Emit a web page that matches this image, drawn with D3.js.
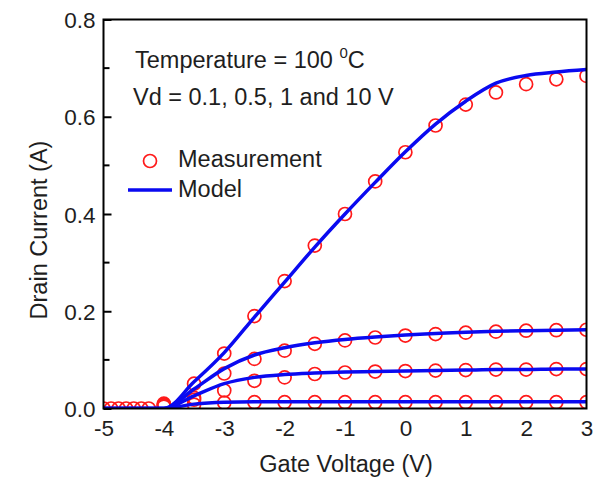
<!DOCTYPE html>
<html>
<head>
<meta charset="utf-8">
<script src="https://cdn.jsdelivr.net/npm/d3@7/dist/d3.min.js"></script>
<style>
  body { margin: 0; background: #fff; }
  svg text { font-family: "Liberation Sans", Arial, sans-serif; fill: #1e1e1e; }
</style>
</head>
<body>
<svg id="chart" width="607" height="479"></svg>
<script>
// Gate voltage points for the measured data (V)
const vgLow = [-5, -4.875, -4.75, -4.625, -4.5, -4.375, -4.25];
const vgMeas = [-4, -3.5, -3, -2.5, -2, -1.5, -1, -0.5, 0, 0.5, 1, 1.5, 2, 2.5, 3];

// Measured drain current (A) for each Vd, at vgMeas
const meas10  = [0.010, 0.051, 0.113, 0.190, 0.262, 0.335, 0.400, 0.467, 0.527, 0.582, 0.625, 0.650, 0.667, 0.677, 0.684];
const meas1   = [0.008, 0.022, 0.072, 0.102, 0.119, 0.133, 0.140, 0.146, 0.150, 0.153, 0.156, 0.158, 0.160, 0.161, 0.162];
const meas05  = [0.006, 0.018, 0.037, 0.057, 0.064, 0.071, 0.074, 0.076, 0.077, 0.078, 0.079, 0.080, 0.080, 0.081, 0.081];
const meas01  = [0.004, 0.008, 0.012, 0.013, 0.013, 0.013, 0.013, 0.013, 0.013, 0.013, 0.013, 0.013, 0.013, 0.013, 0.013];

// Model curves (A)
const vgModel = [-5, -4.5, -4, -3.5, -3, -2.5, -2, -1.5, -1, -0.5, 0, 0.5, 1, 1.5, 2, 2.5, 3];
const model10 = [0, 0, 0, 0.055, 0.115, 0.188, 0.260, 0.332, 0.400, 0.465, 0.528, 0.585, 0.632, 0.669, 0.685, 0.692, 0.697];
const model1  = [0, 0, 0, 0.040, 0.082, 0.110, 0.125, 0.135, 0.142, 0.147, 0.151, 0.154, 0.157, 0.159, 0.160, 0.161, 0.162];
const model05 = [0, 0, 0, 0.026, 0.051, 0.064, 0.070, 0.073, 0.075, 0.076, 0.077, 0.078, 0.079, 0.080, 0.080, 0.081, 0.081];
const model01 = [0, 0, 0, 0.009, 0.013, 0.014, 0.014, 0.014, 0.014, 0.014, 0.014, 0.014, 0.014, 0.014, 0.014, 0.014, 0.014];

const xTicks = [-5, -4, -3, -2, -1, 0, 1, 2, 3];
const yTicks = [0, 0.2, 0.4, 0.6, 0.8];
const yMinor = [0.1, 0.3, 0.5, 0.7];

const svg = d3.select('#chart');
const plotL = 103.5, plotR = 586.5, plotT = 19.5, plotB = 408.5;

const x = d3.scaleLinear().domain([-5, 3]).range([plotL, plotR]);
const y = d3.scaleLinear().domain([0, 0.8]).range([plotB, plotT]);

svg.append('clipPath').attr('id', 'plot-clip')
  .append('rect')
  .attr('x', plotL).attr('y', plotT)
  .attr('width', plotR - plotL).attr('height', plotB - plotT);

const plot = svg.append('g').attr('clip-path', 'url(#plot-clip)');

// measured circles (red, open)
const measSets = [meas10, meas1, meas05, meas01];
const pts = [];
measSets.forEach(vals => vals.forEach((v, i) => pts.push({ vg: vgMeas[i], id: v })));
vgLow.forEach(vg => pts.push({ vg: vg, id: 0 }));

plot.selectAll('circle.meas')
  .data(pts)
  .enter()
  .append('circle')
  .attr('class', 'meas')
  .attr('cx', d => x(d.vg))
  .attr('cy', d => y(d.id))
  .attr('r', 6.5)
  .attr('fill', 'none')
  .attr('stroke', '#ff1a1a')
  .attr('stroke-width', 1.7);

// model lines (blue)
const line = d3.line()
  .x((d, i) => x(vgModel[i]))
  .y(d => y(d))
  .curve(d3.curveMonotoneX);

plot.selectAll('path.model')
  .data([model10, model1, model05, model01])
  .enter()
  .append('path')
  .attr('class', 'model')
  .attr('d', line)
  .attr('fill', 'none')
  .attr('stroke', '#0a0af0')
  .attr('stroke-width', 3.5);

// frame
svg.append('rect')
  .attr('x', plotL).attr('y', plotT)
  .attr('width', plotR - plotL).attr('height', plotB - plotT)
  .attr('fill', 'none')
  .attr('stroke', '#000')
  .attr('stroke-width', 2);

// y axis ticks (pointing inward)
const yAxis = d3.axisRight(y)
  .tickValues(yTicks)
  .tickSize(8)
  .tickFormat(d3.format('.1f'));

const gy = svg.append('g')
  .attr('transform', `translate(${plotL},0)`)
  .call(yAxis);
gy.select('.domain').remove();
gy.selectAll('.tick line').attr('stroke', '#000').attr('stroke-width', 2);
gy.selectAll('.tick text')
  .attr('x', -8)
  .attr('dy', '0.36em')
  .attr('text-anchor', 'end')
  .style('font-size', '22.5px');

svg.append('g')
  .selectAll('line')
  .data(yMinor)
  .enter()
  .append('line')
  .attr('x1', plotL).attr('x2', plotL + 6)
  .attr('y1', d => y(d)).attr('y2', d => y(d))
  .attr('stroke', '#000')
  .attr('stroke-width', 2);

// x axis labels
const xAxis = d3.axisBottom(x)
  .tickValues(xTicks)
  .tickSize(0)
  .tickFormat(d3.format('d'));

const gx = svg.append('g')
  .attr('transform', `translate(0,${plotB})`)
  .call(xAxis);
gx.select('.domain').remove();
gx.selectAll('.tick text')
  .attr('y', 12)
  .attr('dy', '0.71em')
  .style('font-size', '22.5px')
  .text(d => d < 0 ? '-' + Math.abs(d) : d);

// axis titles
svg.append('text')
  .attr('x', 346).attr('y', 472)
  .attr('text-anchor', 'middle')
  .style('font-size', '23.5px')
  .text('Gate Voltage (V)');

svg.append('text')
  .attr('transform', 'translate(47,230) rotate(-90)')
  .attr('text-anchor', 'middle')
  .style('font-size', '23.5px')
  .text('Drain Current (A)');

// annotations
const t1 = svg.append('text')
  .attr('x', 135).attr('y', 68)
  .style('font-size', '23.5px');
t1.append('tspan').text('Temperature = 100 ');
t1.append('tspan').attr('dy', -10).style('font-size', '15px').text('0');
t1.append('tspan').attr('dy', 10).text('C');

svg.append('text')
  .attr('x', 133).attr('y', 105)
  .style('font-size', '23.5px')
  .text('Vd = 0.1, 0.5, 1 and 10 V');

// legend
svg.append('circle')
  .attr('cx', 150).attr('cy', 161)
  .attr('r', 6.5)
  .attr('fill', 'none')
  .attr('stroke', '#ff1a1a')
  .attr('stroke-width', 1.7);
svg.append('text')
  .attr('x', 178).attr('y', 167)
  .style('font-size', '23.5px')
  .text('Measurement');

svg.append('line')
  .attr('x1', 128).attr('x2', 172)
  .attr('y1', 190).attr('y2', 190)
  .attr('stroke', '#0a0af0')
  .attr('stroke-width', 3.5);
svg.append('text')
  .attr('x', 178).attr('y', 197)
  .style('font-size', '23.5px')
  .text('Model');
</script>
</body>
</html>
